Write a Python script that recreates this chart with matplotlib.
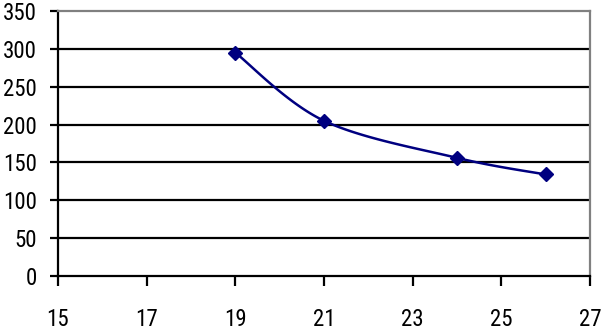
import numpy as np
import matplotlib
matplotlib.use('Agg')
import matplotlib.pyplot as plt
from matplotlib import font_manager

# data
x_vals = [19, 21, 24, 26]
y_vals = [295, 205, 156, 134]
x_ticks = [15, 17, 19, 21, 23, 25, 27]
y_ticks = [0, 50, 100, 150, 200, 250, 300, 350]

LINE_COLOR = '#000080'

names = {f.name for f in font_manager.fontManager.ttflist}
family = 'DejaVu Sans'
for cand in ['Liberation Sans Narrow', 'Roboto Condensed']:
    if cand in names:
        family = cand
        break
plt.rcParams['font.family'] = [family, 'DejaVu Sans']


def smooth_curve(xs, ys, steps=40):
    # Excel-like smoothing: catmull-rom bezier through the points
    xs = np.asarray(xs, float)
    ys = np.asarray(ys, float)
    px = np.concatenate([[xs[0]], xs, [xs[-1]]])
    py = np.concatenate([[ys[0]], ys, [ys[-1]]])
    out_x, out_y = [], []
    t = np.linspace(0, 1, steps)
    for i in range(1, len(px) - 2):
        p0 = np.array([px[i], py[i]])
        p3 = np.array([px[i + 1], py[i + 1]])
        p1 = p0 + (np.array([px[i + 1], py[i + 1]]) - np.array([px[i - 1], py[i - 1]])) / 6
        p2 = p3 - (np.array([px[i + 2], py[i + 2]]) - np.array([px[i], py[i]])) / 6
        b = ((1 - t) ** 3)[:, None] * p0 + (3 * (1 - t) ** 2 * t)[:, None] * p1 \
            + (3 * (1 - t) * t ** 2)[:, None] * p2 + (t ** 3)[:, None] * p3
        out_x.extend(b[:, 0])
        out_y.extend(b[:, 1])
    return out_x, out_y


fig = plt.figure(figsize=(6.01, 3.34), dpi=100)
ax = fig.add_axes([0.0965, 0.174, 0.885, 0.793])

for yv in y_ticks[1:-1]:
    ax.axhline(yv, color='black', linewidth=1.6, zorder=1)

sx, sy = smooth_curve(x_vals, y_vals)
ax.plot(sx, sy, color=LINE_COLOR, linewidth=1.8, zorder=3)
ax.plot(x_vals, y_vals, linestyle='none', marker='D', markersize=7.5,
        color=LINE_COLOR, zorder=4)

ax.set_xlim(15, 27)
ax.set_ylim(0, 350)
ax.set_xticks(x_ticks)
ax.set_yticks(y_ticks)

ax.spines['left'].set_color('black')
ax.spines['left'].set_linewidth(1.6)
ax.spines['bottom'].set_color('black')
ax.spines['bottom'].set_linewidth(1.6)
ax.spines['top'].set_color('#808080')
ax.spines['top'].set_linewidth(1.6)
ax.spines['right'].set_color('#808080')
ax.spines['right'].set_linewidth(1.6)

ax.tick_params(axis='x', direction='out', length=7, width=1.6, pad=16, labelsize=16.5)
ax.tick_params(axis='y', direction='out', length=6, width=1.6, pad=9, labelsize=16.5)

fig.savefig('out.png', dpi=100, facecolor='white')
